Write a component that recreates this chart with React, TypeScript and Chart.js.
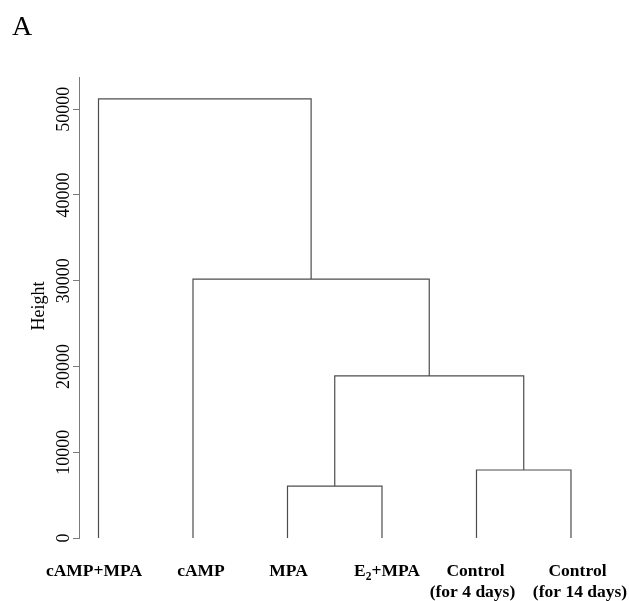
import React, { useEffect, useRef } from "react";
import { Chart, registerables } from "chart.js";

Chart.register(...registerables);

// Leaves in display order (first line / second line); "_2" marks a subscript 2
const leafLine1 = ["cAMP+MPA", "cAMP", "MPA", "E_2+MPA", "Control", "Control"];
const leafLine2 = ["", "", "", "", "(for 4 days)", "(for 14 days)"];
// R-style merge matrix: negative = leaf index (1-based), positive = earlier merge
const mergeLeft = [-3, -5, 1, -2, -1];
const mergeRight = [-4, -6, 2, 3, 4];
const mergeHeights = [6060, 7930, 18900, 30200, 51200];
const yTicks = [0, 10000, 20000, 30000, 40000, 50000];
const yAxisTitle = "Height";
const panelLetter = "A";

// small horizontal nudges of the label text relative to each leaf (px)
const line1Nudge = [-4.5, 8, 1, 5, -1, 6.5];
const line2Nudge = [0, 0, 0, 0, -4, 9];

function buildSegments() {
  const pos: number[] = [];
  const hgt: number[] = [];
  const getX = (id: number) => (id < 0 ? -id : pos[id - 1]);
  const getH = (id: number) => (id < 0 ? 0 : hgt[id - 1]);
  const segs: { x: number; y: number }[][] = [];
  for (let i = 0; i < mergeHeights.length; i++) {
    const l = mergeLeft[i];
    const r = mergeRight[i];
    const h = mergeHeights[i];
    const xl = getX(l);
    const xr = getX(r);
    segs.push([
      { x: xl, y: getH(l) },
      { x: xl, y: h },
      { x: xr, y: h },
      { x: xr, y: getH(r) },
    ]);
    pos.push((xl + xr) / 2);
    hgt.push(h);
  }
  return segs;
}

const SERIF = '"Liberation Serif", "DejaVu Serif", serif';

function drawRich(ctx: CanvasRenderingContext2D, text: string, cx: number, baseline: number) {
  const parts = text.split("_2");
  const mainFont = `bold 17.5px ${SERIF}`;
  const subFont = `bold 11.5px ${SERIF}`;
  let total = 0;
  const widths: number[] = [];
  parts.forEach((p, i) => {
    ctx.font = mainFont;
    const w = ctx.measureText(p).width;
    widths.push(w);
    total += w;
    if (i < parts.length - 1) {
      ctx.font = subFont;
      total += ctx.measureText("2").width;
    }
  });
  let x = cx - total / 2;
  ctx.textAlign = "left";
  ctx.textBaseline = "alphabetic";
  parts.forEach((p, i) => {
    ctx.font = mainFont;
    ctx.fillText(p, x, baseline);
    x += widths[i];
    if (i < parts.length - 1) {
      ctx.font = subFont;
      ctx.fillText("2", x, baseline + 4);
      x += ctx.measureText("2").width;
    }
  });
}

const labelPlugin = {
  id: "dendroLabels",
  afterDraw(chart: any) {
    const ctx: CanvasRenderingContext2D = chart.ctx;
    const xs = chart.scales.x;
    const ys = chart.scales.y;
    ctx.save();
    ctx.fillStyle = "#000";
    // y tick labels, rotated like R
    ctx.font = `18px ${SERIF}`;
    yTicks.forEach((v) => {
      const py = ys.getPixelForValue(v);
      ctx.save();
      ctx.translate(69, py);
      ctx.rotate(-Math.PI / 2);
      ctx.textAlign = "center";
      ctx.textBaseline = "alphabetic";
      ctx.fillText(String(v), 0, 0);
      ctx.restore();
    });
    // y axis title
    ctx.save();
    ctx.font = `18px ${SERIF}`;
    ctx.translate(44, 306);
    ctx.rotate(-Math.PI / 2);
    ctx.textAlign = "center";
    ctx.textBaseline = "alphabetic";
    ctx.fillText(yAxisTitle, 0, 0);
    ctx.restore();
    // leaf labels
    leafLine1.forEach((t, i) => {
      const px = xs.getPixelForValue(i + 1);
      drawRich(ctx, t, px + line1Nudge[i], 576);
      if (leafLine2[i]) drawRich(ctx, leafLine2[i], px + line2Nudge[i], 597);
    });
    // panel letter
    ctx.font = `28px ${SERIF}`;
    ctx.textAlign = "left";
    ctx.textBaseline = "alphabetic";
    ctx.fillText(panelLetter, 12, 35);
    ctx.restore();
  },
};

export default function App() {
  const ref = useRef<HTMLCanvasElement | null>(null);
  useEffect(() => {
    if (!ref.current) return;
    const segs = buildSegments();
    const chart = new Chart(ref.current, {
      type: "scatter",
      data: {
        datasets: segs.map((s) => ({
          data: s,
          showLine: true,
          borderColor: "#4d4d4d",
          borderWidth: 1.2,
          pointRadius: 0,
          pointHoverRadius: 0,
          fill: false,
          tension: 0,
          clip: false as any,
        })),
      },
      options: {
        responsive: false,
        animation: false,
        events: [],
        layout: { padding: { left: 0, right: 29, top: 77, bottom: 63 } },
        plugins: { legend: { display: false }, tooltip: { enabled: false } },
        scales: {
          x: { type: "linear", min: 0.7937, max: 6.307, display: false },
          y: {
            type: "linear",
            min: 0,
            max: 53760,
            afterBuildTicks: (s: any) => {
              s.ticks = yTicks.map((v) => ({ value: v }));
            },
            afterFit: (s: any) => {
              s.width = 79;
            },
            ticks: { display: false },
            grid: { drawOnChartArea: false, drawTicks: true, tickLength: 6, color: "#7a7a7a", lineWidth: 1 },
            border: { display: true, color: "#7a7a7a", width: 1 },
          },
        },
      },
      plugins: [labelPlugin],
    });
    return () => chart.destroy();
  }, []);
  return (
    <div style={{ position: "absolute", left: 0, top: 0, width: 629, height: 601, background: "#fff" }}>
      <canvas ref={ref} width={629} height={601} />
    </div>
  );
}
